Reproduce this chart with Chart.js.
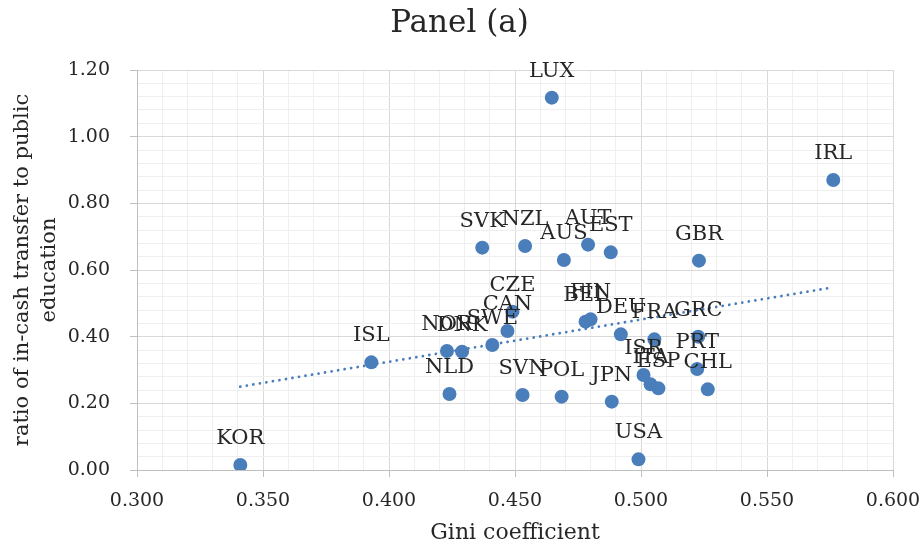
<!DOCTYPE html>
<html>
<head>
<meta charset="utf-8">
<script src="https://cdn.jsdelivr.net/npm/chart.js@4.4.1/dist/chart.umd.min.js"></script>
<style>
  html, body { margin: 0; padding: 0; background: #ffffff; }
  #wrap { width: 924px; height: 549px; position: relative; }
</style>
</head>
<body>
<div id="wrap"><canvas id="c"></canvas></div>
<script>
// ---- data ----
const countries = ['KOR','ISL','NLD','NOR','DNK','SWE','CAN','CZE','SVK','NZL','SVN','POL','LUX','AUS','AUT','EST','BEL','FIN','DEU','JPN','USA','FRA','ISR','ITA','ESP','GBR','GRC','PRT','CHL','IRL'];
const gini      = [0.341,0.393,0.424,0.423,0.429,0.441,0.447,0.449,0.437,0.454,0.453,0.4685,0.4646,0.4694,0.479,0.488,0.478,0.480,0.492,0.4884,0.499,0.5053,0.501,0.5038,0.5069,0.523,0.5227,0.5223,0.5265,0.5763];
const ratio     = [0.015,0.323,0.228,0.357,0.355,0.375,0.417,0.475,0.667,0.672,0.225,0.220,1.117,0.630,0.676,0.653,0.445,0.452,0.407,0.205,0.032,0.392,0.285,0.257,0.245,0.628,0.400,0.303,0.242,0.870];
const trendX    = [0.341, 0.5763];
const trendY    = [0.250, 0.548];
const xTickLabels = ['0.300','0.350','0.400','0.450','0.500','0.550','0.600'];
const yTickLabels = ['0.00','0.20','0.40','0.60','0.80','1.00','1.20'];

const FONT = "'DejaVu Serif', serif";
const TEXT = '#262626';
const BLUE = '#4a7ebb';
const MAJOR = '#d9d9d9';
const MINOR = '#efefef';

const labelPlugin = {
  id: 'pointLabels',
  afterDatasetsDraw(chart) {
    const meta = chart.getDatasetMeta(0);
    const ctx = chart.ctx;
    ctx.save();
    ctx.font = '21px ' + FONT;
    ctx.fillStyle = TEXT;
    ctx.textAlign = 'center';
    ctx.textBaseline = 'alphabetic';
    meta.data.forEach((el, i) => {
      ctx.fillText(countries[i], el.x, el.y - 21);
    });
    ctx.restore();
  }
};

new Chart(document.getElementById('c'), {
  type: 'scatter',
  data: {
    datasets: [
      {
        label: 'ratio',
        data: gini.map((g, i) => ({ x: g, y: ratio[i] })),
        backgroundColor: BLUE,
        borderWidth: 0,
        pointRadius: 7,
        pointHoverRadius: 7
      },
      {
        type: 'line',
        label: 'trend',
        data: trendX.map((x, i) => ({ x: x, y: trendY[i] })),
        borderColor: BLUE,
        borderWidth: 2.8,
        borderDash: [0.01, 6.6],
        borderCapStyle: 'round',
        pointRadius: 0,
        fill: false,
        tension: 0
      }
    ]
  },
  options: {
    responsive: true,
    maintainAspectRatio: false,
    animation: false,
    events: [],
    layout: { padding: { left: 0, right: 5, top: 0, bottom: 0 } },
    plugins: {
      legend: { display: false },
      tooltip: { enabled: false },
      title: {
        display: true,
        text: 'Panel (a)',
        color: TEXT,
        font: { family: FONT, size: 31, weight: 'normal', lineHeight: 1.2 },
        padding: { top: 5, bottom: 27.8 }
      }
    },
    scales: {
      x: {
        type: 'linear',
        min: 0.3, max: 0.6,
        afterFit(s) { s.height = 79; s.paddingRight = 31; },
        border: { color: '#bfbfbf', width: 1 },
        grid: {
          color: c => (c.index % 5 === 0 ? MAJOR : MINOR),
          tickColor: c => (c.index % 5 === 0 ? '#bfbfbf' : 'rgba(0,0,0,0)'),
          tickLength: 7,
          lineWidth: 1
        },
        ticks: {
          stepSize: 0.01,
          autoSkip: false,
          maxRotation: 0,
          padding: 12.5,
          color: TEXT,
          font: { family: FONT, size: 19 },
          callback: (v, i) => (i % 5 === 0 ? xTickLabels[i / 5] : '')
        },
        title: {
          display: true,
          text: 'Gini coefficient',
          color: TEXT,
          font: { family: FONT, size: 22, lineHeight: 1.2 },
          padding: { top: 4, bottom: 3 }
        }
      },
      y: {
        type: 'linear',
        min: 0, max: 1.2,
        afterFit(s) { s.width = 137; },
        border: { color: '#bfbfbf', width: 1 },
        grid: {
          color: c => (c.index % 5 === 0 ? MAJOR : MINOR),
          tickColor: c => (c.index % 5 === 0 ? '#bfbfbf' : 'rgba(0,0,0,0)'),
          tickLength: 7,
          lineWidth: 1
        },
        ticks: {
          stepSize: 0.04,
          autoSkip: false,
          padding: 20,
          color: TEXT,
          font: { family: FONT, size: 19 },
          callback: (v, i) => (i % 5 === 0 ? yTickLabels[i / 5] : '')
        },
        title: {
          display: true,
          text: ['ratio of in-cash transfer to public', 'education'],
          color: TEXT,
          font: { family: FONT, size: 21, lineHeight: 1.286 },
          padding: { top: 9.5, bottom: 0 }
        }
      }
    }
  },
  plugins: [labelPlugin]
});
</script>
</body>
</html>
